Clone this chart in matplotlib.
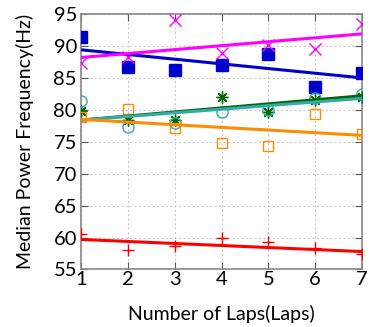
import matplotlib
matplotlib.use("Agg")
import matplotlib.pyplot as plt

laps = [1, 2, 3, 4, 5, 6, 7]
blue_sq = [91.4, 86.7, 86.2, 87.0, 88.8, 83.5, 85.7]
magenta_x = [87.3, 88.3, 94.1, 88.9, 90.2, 89.5, 93.4]
green_star = [79.8, 78.4, 78.4, 82.0, 79.7, 81.6, 82.0]
teal_circ = [81.4, 77.3, 78.0, 79.6, 80.0, 81.8, 82.5]
orange_sq = [78.9, 80.1, 77.1, 74.8, 74.4, 79.3, 76.2]
red_plus = [60.6, 58.0, 58.6, 60.0, 59.3, 58.4, 57.4]

# trend line end values at lap 1 and lap 7
trend_x = [1, 7]
blue_trend = [89.4, 85.0]
magenta_trend = [88.2, 91.9]
green_trend = [78.4, 82.2]
teal_trend = [78.4, 81.8]
orange_trend = [78.5, 76.0]
red_trend = [59.7, 57.8]

plt.rcParams['font.family'] = ['Lato', 'DejaVu Sans']

fig = plt.figure(figsize=(3.74, 3.27), dpi=100)
ax = fig.add_axes([0.217, 0.176, 0.751, 0.781])

series = [
    (blue_sq, blue_trend, '#0000CC', 's', dict(markerfacecolor='#0000CC', markersize=8, markeredgewidth=1)),
    (magenta_x, magenta_trend, '#FF00FF', 'x', dict(markersize=8.5, markeredgewidth=1)),
    (green_star, green_trend, '#006600', (8, 2, 0), dict(markersize=8.5, markeredgewidth=1)),
    (teal_circ, teal_trend, '#33AAAA', 'o', dict(markerfacecolor='none', markersize=8, markeredgewidth=1)),
    (orange_sq, orange_trend, '#FF8C00', 's', dict(markerfacecolor='none', markersize=7.5, markeredgewidth=1)),
    (red_plus, red_trend, '#FF0000', '+', dict(markersize=8.5, markeredgewidth=1)),
]

for pts, trend, col, mk, kw in series:
    ax.plot(laps, pts, linestyle='none', marker=mk, color=col, markeredgecolor=col, zorder=3, **kw)
    ax.plot(trend_x, trend, color=col, lw=2.2, zorder=4, solid_capstyle='butt')

ax.set_xlim(1, 7)
ax.set_ylim(55, 95)
ax.set_xticks(laps)
ax.set_yticks([55, 60, 65, 70, 75, 80, 85, 90, 95])
ax.grid(True, linestyle=(0, (1.5, 2.5)), color='#BBBBBB', lw=0.8)
ax.tick_params(axis='both', direction='in', labelsize=14.5, length=5, top=True, right=True, color='#555555')
ax.tick_params(axis='y', pad=3)
ax.tick_params(axis='x', pad=1)
for s in ax.spines.values():
    s.set_color('#888888')
    s.set_linewidth(1.2)

ax.set_xlabel('Number of Laps(Laps)', fontsize=14, labelpad=12)
ax.set_ylabel('Median Power Frequency(Hz)', fontsize=14, labelpad=14)

fig.savefig('out.png', dpi=100)
